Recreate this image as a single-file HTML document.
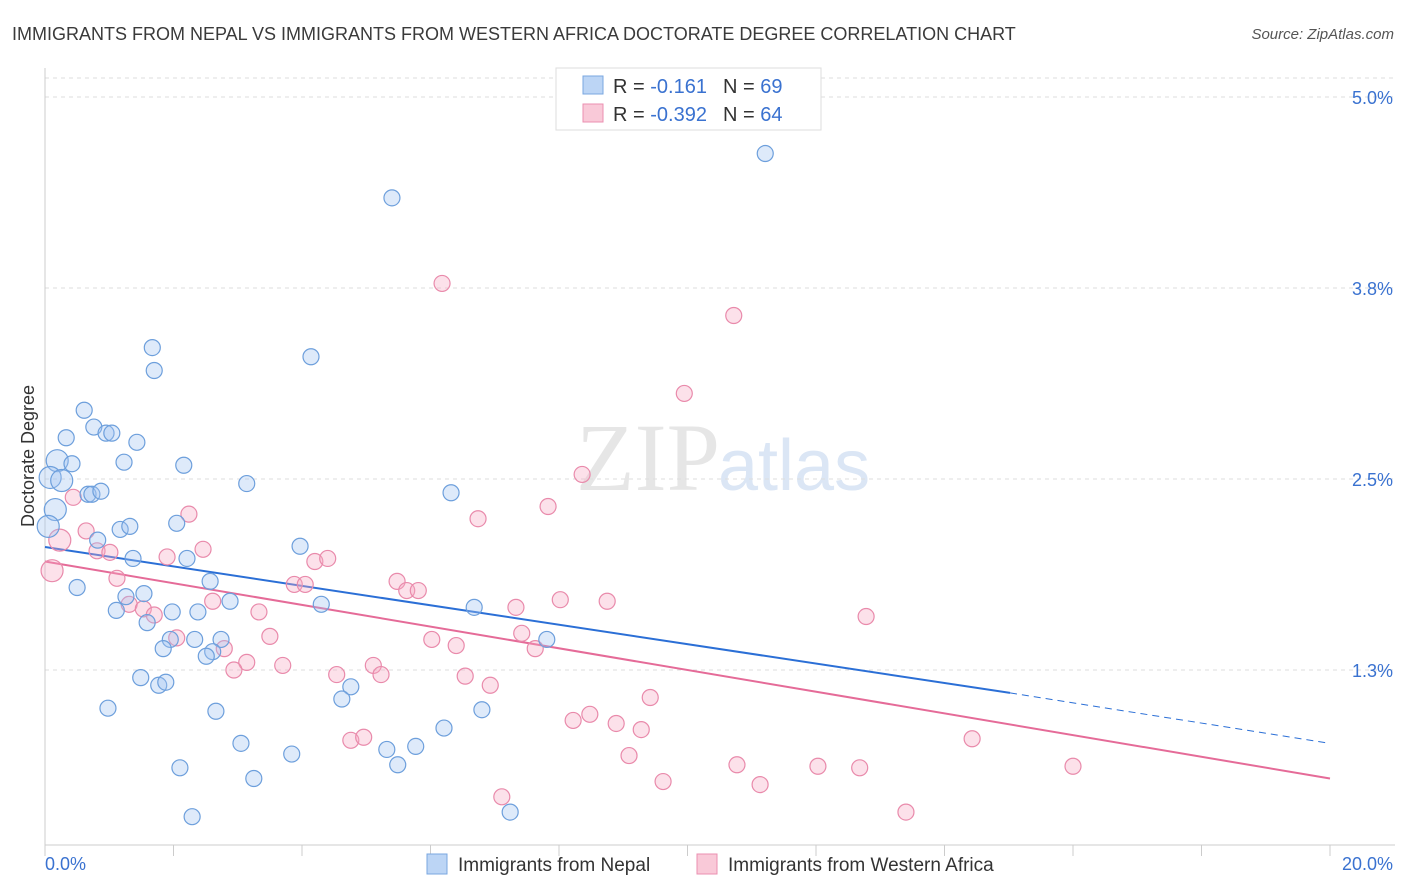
<!DOCTYPE html>
<html><head><meta charset="utf-8"><style>
body{margin:0;background:#fff;font-family:"Liberation Sans",sans-serif;}
svg{display:block}
</style></head><body>
<svg id="chart" width="1406" height="892" viewBox="0 0 1406 892" xmlns="http://www.w3.org/2000/svg">
<text x="12" y="40" font-size="18" fill="#3a3a3a">IMMIGRANTS FROM NEPAL VS IMMIGRANTS FROM WESTERN AFRICA DOCTORATE DEGREE CORRELATION CHART</text>
<text x="1394" y="39" font-size="15" fill="#555" font-style="italic" text-anchor="end">Source: ZipAtlas.com</text>
<text x="720" y="490" font-size="96" fill="#e6e6e6" font-family="Liberation Serif,serif" text-anchor="end">ZIP</text>
<text x="718" y="490" font-size="72" fill="#dbe6f5">atlas</text>
<g id="grid"></g><g id="axes"></g><g id="trends"></g><g id="pts"></g>
<g>
<rect x="556" y="68" width="265" height="62" fill="#fff" stroke="#ddd"/>
<rect x="583" y="76" width="20" height="18" fill="#bcd5f5" stroke="#7aa7e0"/>
<rect x="583" y="104" width="20" height="18" fill="#f9c9d8" stroke="#eb8fb0"/>
<text x="613" y="93" font-size="20" fill="#333">R = <tspan fill="#3a72d0">-0.161</tspan><tspan dx="16">N = </tspan><tspan fill="#3a72d0">69</tspan></text>
<text x="613" y="121" font-size="20" fill="#333">R = <tspan fill="#3a72d0">-0.392</tspan><tspan dx="16">N = </tspan><tspan fill="#3a72d0">64</tspan></text>
</g>
<g>
<rect x="427" y="854" width="20" height="20" fill="#bcd5f5" stroke="#7aa7e0"/>
<text x="458" y="871" font-size="19" fill="#333">Immigrants from Nepal</text>
<rect x="697" y="854" width="20" height="20" fill="#f9c9d8" stroke="#eb8fb0"/>
<text x="728" y="871" font-size="19" fill="#333">Immigrants from Western Africa</text>
</g>
<text transform="translate(34,456) rotate(-90)" font-size="18" fill="#333" text-anchor="middle">Doctorate Degree</text>
</svg>
<script>
const yTicks=[1.25,2.5,3.75,5.0];
const yTickLabels=["1.3%","2.5%","3.8%","5.0%"];
const xTicks=[0,2,4,6,8,10,12,14,16,18,20];
const xEndLabels=["0.0%","20.0%"];
const nepalX=[11.21,5.40,4.14,1.67,1.70,0.61,0.76,0.33,0.95,1.04,1.43,0.19,0.42,1.23,2.16,0.08,0.26,0.67,0.73,0.87,3.14,6.32,0.16,0.05,1.17,1.32,2.05,0.82,3.97,1.37,2.21,0.50,2.57,1.26,1.54,2.88,4.30,1.11,1.98,2.38,6.68,1.59,1.95,2.33,2.74,1.84,2.61,2.51,7.81,1.49,1.77,1.88,4.76,4.62,0.98,2.66,6.80,6.21,3.05,3.84,5.32,5.77,2.10,5.49,3.25,2.29,7.24];
const nepalY=[4.63,4.34,3.30,3.36,3.21,2.95,2.84,2.77,2.80,2.80,2.74,2.62,2.60,2.61,2.59,2.51,2.49,2.40,2.40,2.42,2.47,2.41,2.30,2.19,2.17,2.19,2.21,2.10,2.06,1.98,1.98,1.79,1.83,1.73,1.75,1.70,1.68,1.64,1.63,1.63,1.66,1.56,1.45,1.45,1.45,1.39,1.37,1.34,1.45,1.20,1.15,1.17,1.14,1.06,1.00,0.98,0.99,0.87,0.77,0.70,0.73,0.75,0.61,0.63,0.54,0.29,0.32];
const wafX=[6.18,10.72,9.95,8.36,7.83,6.74,2.24,0.44,0.64,0.23,0.11,0.81,1.01,2.46,1.90,4.20,4.40,1.12,3.88,4.05,5.48,5.63,5.81,1.31,1.53,1.70,2.61,3.33,7.33,8.02,8.75,12.78,2.05,2.79,3.50,6.02,6.40,7.42,7.63,3.14,2.94,3.70,4.54,5.11,5.23,6.54,6.93,9.42,8.22,8.48,8.89,9.28,4.76,4.96,14.43,9.09,10.77,12.03,12.68,16.00,9.62,11.13,7.11,13.40];
const wafY=[3.78,3.57,3.06,2.53,2.32,2.24,2.27,2.38,2.16,2.10,1.90,2.03,2.02,2.04,1.99,1.96,1.98,1.85,1.81,1.81,1.83,1.77,1.77,1.68,1.65,1.61,1.70,1.63,1.66,1.71,1.70,1.60,1.46,1.39,1.47,1.45,1.41,1.49,1.39,1.30,1.25,1.28,1.22,1.28,1.22,1.21,1.15,1.07,0.92,0.96,0.90,0.86,0.79,0.81,0.80,0.69,0.63,0.62,0.61,0.62,0.52,0.50,0.42,0.32];
const nepalTrend=[2.055,1.10,0.77]; const nepalTrendX=[0,15.02,20];
const wafTrend=[1.96,0.54]; const wafTrendX=[0,20];
const NS="http://www.w3.org/2000/svg";
const X=v=>45+v*64.25, Y=v=>861-v*152.8;
function mk(p,t,a){const e=document.createElementNS(NS,t);for(const k in a)e.setAttribute(k,a[k]);document.getElementById(p).appendChild(e);return e;}
yTicks.forEach((t,i)=>{
 const l=mk('grid','line',{x1:45,x2:1395,y1:Y(t),y2:Y(t),stroke:'#ddd','stroke-dasharray':'4,4'});
 
 
 const tx=mk('grid','text',{x:1393,y:Y(t)+7,'font-size':18,fill:'#3a72d0','text-anchor':'end'});tx.textContent=yTickLabels[i];
 
 
});
const tl=mk('grid','line',{x1:45,x2:1395,y1:78,y2:78,stroke:'#ddd','stroke-dasharray':'4,4'});


const ax=mk('axes','line',{x1:45,x2:1395,y1:845,y2:845,stroke:'#ccc'});


const ay=mk('axes','line',{x1:45,x2:45,y1:68,y2:845,stroke:'#ccc'});


xTicks.forEach(t=>{const l=mk('axes','line',{x1:X(t),x2:X(t),y1:845,y2:856,stroke:'#ccc'});
 
 });
const x0=mk('axes','text',{x:45,y:870,'font-size':18,fill:'#3a72d0'});x0.textContent=xEndLabels[0];


const x1=mk('axes','text',{x:1393,y:870,'font-size':18,fill:'#3a72d0','text-anchor':'end'});x1.textContent=xEndLabels[1];


function dot(x,y,fill,stroke,name){const r=x<0.3?11:8;const c=mk('pts','circle',{cx:X(x),cy:Y(y),r:r,fill:fill,stroke:stroke,'stroke-width':1.2});
 
 }
wafX.forEach((x,i)=>dot(x,wafY[i],'rgba(246,170,196,0.35)','#e98aab','western-africa-point'));
nepalX.forEach((x,i)=>dot(x,nepalY[i],'rgba(160,196,240,0.35)','#6d9fdc','nepal-point'));
const b1=mk('trends','line',{x1:X(nepalTrendX[0]),y1:Y(nepalTrend[0]),x2:X(nepalTrendX[1]),y2:Y(nepalTrend[1]),stroke:'#2b6fd6','stroke-width':2});


const b2=mk('trends','line',{x1:X(nepalTrendX[1]),y1:Y(nepalTrend[1]),x2:X(nepalTrendX[2]),y2:Y(nepalTrend[2]),stroke:'#2b6fd6','stroke-width':1,'stroke-dasharray':'7,5'});


const p1=mk('trends','line',{x1:X(wafTrendX[0]),y1:Y(wafTrend[0]),x2:X(wafTrendX[1]),y2:Y(wafTrend[1]),stroke:'#e56b98','stroke-width':2});


</script>
</body></html>
